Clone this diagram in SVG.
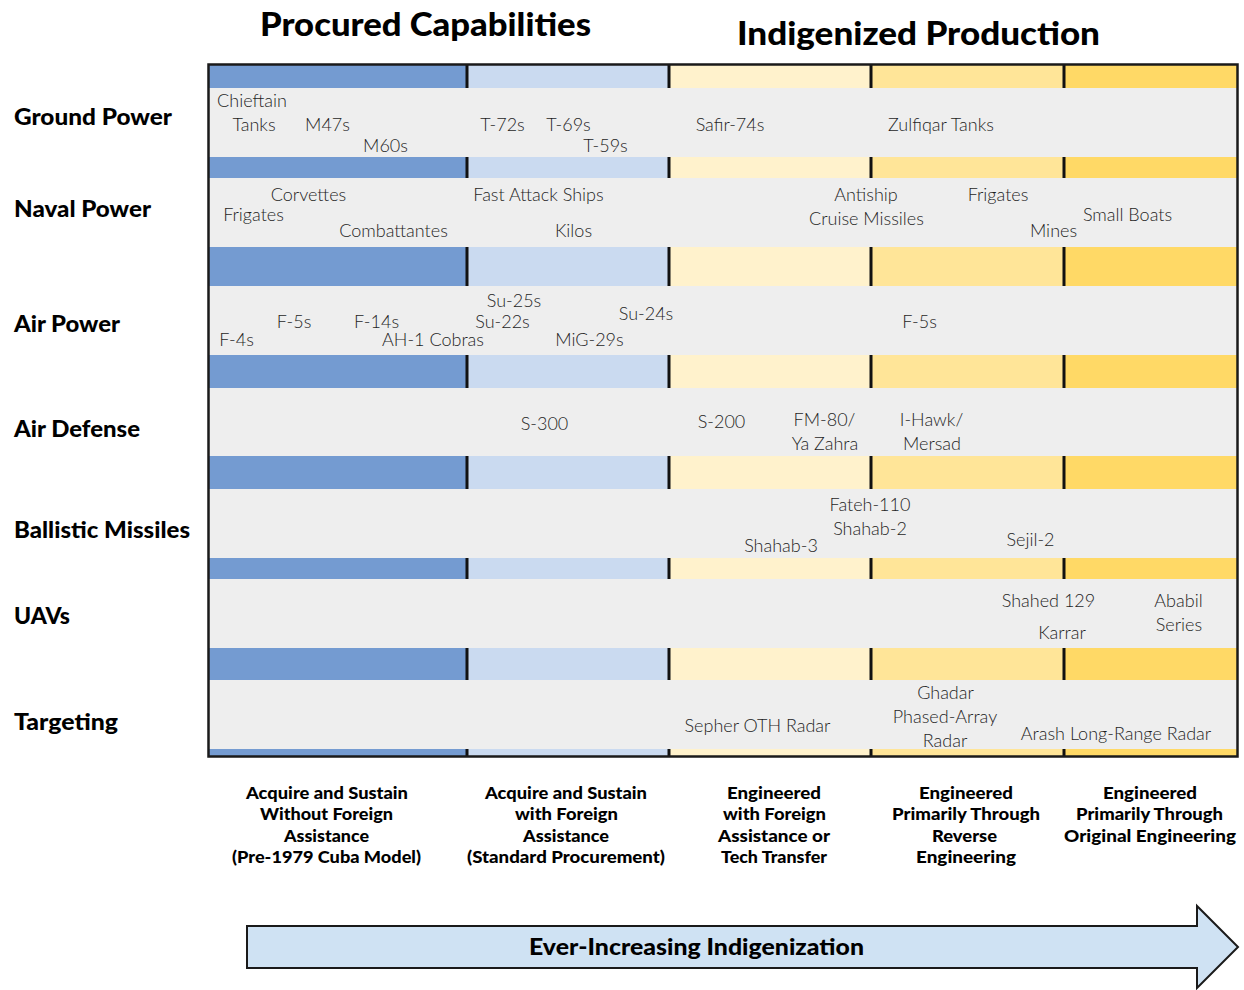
<svg xmlns="http://www.w3.org/2000/svg" width="1244" height="990" viewBox="0 0 1244 990">
<style>
.title{font-family:Lato,"Noto Sans",sans-serif;font-weight:900;font-size:32px;fill:#000;text-anchor:middle}
.row{font-family:Lato,"Noto Sans",sans-serif;font-weight:900;font-size:22px;fill:#000}
.it{font-family:Lato,"Noto Sans",sans-serif;font-weight:300;font-size:18px;fill:#1f1f1f;text-anchor:middle}
.col{font-family:Lato,"Noto Sans",sans-serif;font-weight:900;font-size:17px;fill:#000;text-anchor:middle}
.arr{font-family:Lato,"Noto Sans",sans-serif;font-weight:900;font-size:23px;fill:#000;text-anchor:middle}
.gray{fill:#EEEEEE}
.div{stroke:#111;stroke-width:3}
</style>
<rect width="1244" height="990" fill="#fff"/>
<g id="headers">
<text class="title" x="425.5" y="36" textLength="331" lengthAdjust="spacingAndGlyphs">Procured Capabilities</text>
<text class="title" x="918.5" y="45" textLength="363" lengthAdjust="spacingAndGlyphs">Indigenized Production</text>
</g>
<g id="grid">
<rect x="208" y="64" width="259" height="693" fill="#749BD1"/>
<rect x="467" y="64" width="202" height="693" fill="#CADAF0"/>
<rect x="669" y="64" width="202" height="693" fill="#FFF2CC"/>
<rect x="871" y="64" width="193" height="693" fill="#FFE598"/>
<rect x="1064" y="64" width="174" height="693" fill="#FFD966"/>
<line class="div" x1="467" y1="64" x2="467" y2="757"/>
<line class="div" x1="669" y1="64" x2="669" y2="757"/>
<line class="div" x1="871" y1="64" x2="871" y2="757"/>
<line class="div" x1="1064" y1="64" x2="1064" y2="757"/>
<rect class="gray" x="209" y="88" width="1028" height="69"/>
<rect class="gray" x="209" y="178" width="1028" height="69"/>
<rect class="gray" x="209" y="286" width="1028" height="69"/>
<rect class="gray" x="209" y="388" width="1028" height="68"/>
<rect class="gray" x="209" y="489" width="1028" height="69"/>
<rect class="gray" x="209" y="579" width="1028" height="69"/>
<rect class="gray" x="209" y="680" width="1028" height="69"/>
<rect x="208.5" y="64.5" width="1029" height="692" fill="none" stroke="#1a1a1a" stroke-width="2.5"/>
</g>
<g id="row-ground">
<text class="row" x="14" y="125" textLength="158" lengthAdjust="spacingAndGlyphs">Ground Power</text>
<text class="it" x="252" y="107">Chieftain</text>
<text class="it" x="254" y="131">Tanks</text>
<text class="it" x="327.5" y="131">M47s</text>
<text class="it" x="385.5" y="152">M60s</text>
<text class="it" x="502.5" y="131">T-72s</text>
<text class="it" x="568.5" y="131">T-69s</text>
<text class="it" x="605.5" y="152">T-59s</text>
<text class="it" x="730" y="131">Safir-74s</text>
<text class="it" x="941" y="131">Zulfiqar Tanks</text>
</g>
<g id="row-naval">
<text class="row" x="14" y="217" textLength="137" lengthAdjust="spacingAndGlyphs">Naval Power</text>
<text class="it" x="308.5" y="201">Corvettes</text>
<text class="it" x="253.5" y="221">Frigates</text>
<text class="it" x="393.5" y="237">Combattantes</text>
<text class="it" x="538.5" y="201">Fast Attack Ships</text>
<text class="it" x="573.5" y="237">Kilos</text>
<text class="it" x="866" y="201">Antiship</text>
<text class="it" x="866.5" y="225">Cruise Missiles</text>
<text class="it" x="998" y="201">Frigates</text>
<text class="it" x="1127.5" y="221">Small Boats</text>
<text class="it" x="1053.5" y="237">Mines</text>
</g>
<g id="row-air">
<text class="row" x="14" y="332" textLength="106" lengthAdjust="spacingAndGlyphs">Air Power</text>
<text class="it" x="514" y="307">Su-25s</text>
<text class="it" x="502.5" y="328">Su-22s</text>
<text class="it" x="646" y="320">Su-24s</text>
<text class="it" x="294" y="328">F-5s</text>
<text class="it" x="376.5" y="328">F-14s</text>
<text class="it" x="236.5" y="346">F-4s</text>
<text class="it" x="433" y="346">AH-1 Cobras</text>
<text class="it" x="589.5" y="346">MiG-29s</text>
<text class="it" x="919.5" y="328">F-5s</text>
</g>
<g id="row-airdefense">
<text class="row" x="14" y="437" textLength="126" lengthAdjust="spacingAndGlyphs">Air Defense</text>
<text class="it" x="544.5" y="430">S-300</text>
<text class="it" x="721.5" y="428">S-200</text>
<text class="it" x="824.5" y="426">FM-80/</text>
<text class="it" x="825" y="450">Ya Zahra</text>
<text class="it" x="931.5" y="426">I-Hawk/</text>
<text class="it" x="932" y="450">Mersad</text>
</g>
<g id="row-ballistic">
<text class="row" x="14" y="538" textLength="176" lengthAdjust="spacingAndGlyphs">Ballistic Missiles</text>
<text class="it" x="870" y="511">Fateh-110</text>
<text class="it" x="870" y="535">Shahab-2</text>
<text class="it" x="781" y="552">Shahab-3</text>
<text class="it" x="1030.5" y="546">Sejil-2</text>
</g>
<g id="row-uavs">
<text class="row" x="14" y="624" textLength="56" lengthAdjust="spacingAndGlyphs">UAVs</text>
<text class="it" x="1048.5" y="607">Shahed 129</text>
<text class="it" x="1062" y="639">Karrar</text>
<text class="it" x="1178.5" y="607">Ababil</text>
<text class="it" x="1179" y="631">Series</text>
</g>
<g id="row-targeting">
<text class="row" x="14" y="730" textLength="104" lengthAdjust="spacingAndGlyphs">Targeting</text>
<text class="it" x="757.5" y="732">Sepher OTH Radar</text>
<text class="it" x="945.5" y="699">Ghadar</text>
<text class="it" x="945" y="723">Phased-Array</text>
<text class="it" x="945" y="747">Radar</text>
<text class="it" x="1116" y="740">Arash Long-Range Radar</text>
</g>
<g id="col-labels">
<text class="col" x="327" y="799" textLength="162" lengthAdjust="spacingAndGlyphs">Acquire and Sustain</text>
<text class="col" x="326.5" y="820" textLength="133" lengthAdjust="spacingAndGlyphs">Without Foreign</text>
<text class="col" x="326.5" y="842" textLength="85" lengthAdjust="spacingAndGlyphs">Assistance</text>
<text class="col" x="326.5" y="863" textLength="189" lengthAdjust="spacingAndGlyphs">(Pre-1979 Cuba Model)</text>
<text class="col" x="566" y="799" textLength="162" lengthAdjust="spacingAndGlyphs">Acquire and Sustain</text>
<text class="col" x="566.5" y="820" textLength="103" lengthAdjust="spacingAndGlyphs">with Foreign</text>
<text class="col" x="566" y="842" textLength="86" lengthAdjust="spacingAndGlyphs">Assistance</text>
<text class="col" x="566" y="863" textLength="198" lengthAdjust="spacingAndGlyphs">(Standard Procurement)</text>
<text class="col" x="774" y="799" textLength="94" lengthAdjust="spacingAndGlyphs">Engineered</text>
<text class="col" x="774.5" y="820" textLength="103" lengthAdjust="spacingAndGlyphs">with Foreign</text>
<text class="col" x="774" y="842" textLength="112" lengthAdjust="spacingAndGlyphs">Assistance or</text>
<text class="col" x="774" y="863" textLength="106" lengthAdjust="spacingAndGlyphs">Tech Transfer</text>
<text class="col" x="966" y="799" textLength="94" lengthAdjust="spacingAndGlyphs">Engineered</text>
<text class="col" x="966" y="820" textLength="148" lengthAdjust="spacingAndGlyphs">Primarily Through</text>
<text class="col" x="964.5" y="842" textLength="65" lengthAdjust="spacingAndGlyphs">Reverse</text>
<text class="col" x="966" y="863" textLength="100" lengthAdjust="spacingAndGlyphs">Engineering</text>
<text class="col" x="1150" y="799" textLength="94" lengthAdjust="spacingAndGlyphs">Engineered</text>
<text class="col" x="1149.5" y="820" textLength="147" lengthAdjust="spacingAndGlyphs">Primarily Through</text>
<text class="col" x="1150" y="842" textLength="172" lengthAdjust="spacingAndGlyphs">Original Engineering</text>
</g>
<g id="connectors">
<g id="arrow">
<polygon points="247,926 1197,926 1197,906 1238,947 1197,988 1197,968 247,968" fill="#CFE2F3" stroke="#1a1a1a" stroke-width="2"/>
<text class="arr" x="696.5" y="955" textLength="335" lengthAdjust="spacingAndGlyphs">Ever-Increasing Indigenization</text>
</g>
</g>
</svg>
